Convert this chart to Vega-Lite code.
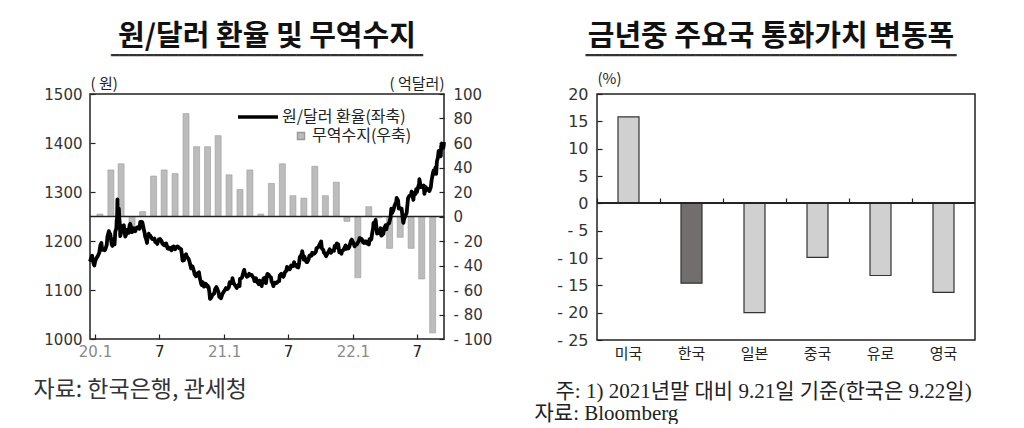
{
  "$schema": "https://vega.github.io/schema/vega-lite/v6.json",
  "background": "white",
  "padding": {"left": 32, "top": 22, "right": 5, "bottom": 0},
  "spacing": 40,
  "config": {
    "view": {"stroke": "#222", "strokeWidth": 1.5},
    "font": "Noto Sans CJK KR",
    "axis": {"grid": false, "domain": false, "labelFont": "DejaVu Sans", "labelFontSize": 15, "labelColor": "#333", "tickColor": "#222", "tickWidth": 1.2, "titleFontWeight": "normal", "titleFont": "Noto Sans CJK KR", "titleColor": "#222", "labelOverlap": false},
    "title": {"fontSize": 29, "fontWeight": "bold", "color": "#111", "anchor": "middle", "frame": "group", "subtitleFont": "DejaVu Sans Mono", "subtitleFontSize": 14, "subtitleColor": "#333", "subtitlePadding": -3}
  },
  "hconcat": [
    {
      "title": {"text": "원/달러 환율 및 무역수지", "subtitle": "━━━━━━━━━━━━━━━━━━━━━━━━━━━━━━━━━━━━━", "offset": 13},
      "width": 354,
      "height": 245,
      "layer": [
        {
          "data": {"values": [
            {"m": "2020-01-15", "tb": 2}, {"m": "2020-02-15", "tb": 38}, {"m": "2020-03-15", "tb": 43}, {"m": "2020-04-15", "tb": -9},
            {"m": "2020-05-15", "tb": 4}, {"m": "2020-06-15", "tb": 33}, {"m": "2020-07-15", "tb": 38}, {"m": "2020-08-15", "tb": 35},
            {"m": "2020-09-15", "tb": 84}, {"m": "2020-10-15", "tb": 57}, {"m": "2020-11-15", "tb": 57}, {"m": "2020-12-15", "tb": 66},
            {"m": "2021-01-15", "tb": 34}, {"m": "2021-02-15", "tb": 22}, {"m": "2021-03-15", "tb": 38}, {"m": "2021-04-15", "tb": 2},
            {"m": "2021-05-15", "tb": 27}, {"m": "2021-06-15", "tb": 43}, {"m": "2021-07-15", "tb": 17}, {"m": "2021-08-15", "tb": 15},
            {"m": "2021-09-15", "tb": 41}, {"m": "2021-10-15", "tb": 17}, {"m": "2021-11-15", "tb": 28}, {"m": "2021-12-15", "tb": -4},
            {"m": "2022-01-15", "tb": -50}, {"m": "2022-02-15", "tb": 8}, {"m": "2022-03-15", "tb": -1}, {"m": "2022-04-15", "tb": -26},
            {"m": "2022-05-15", "tb": -17}, {"m": "2022-06-15", "tb": -26}, {"m": "2022-07-15", "tb": -51}, {"m": "2022-08-15", "tb": -95}
          ]},
          "layer": [
            {
              "mark": {"type": "bar", "size": 6, "stroke": "#9a9a9a", "strokeWidth": 0.6},
              "encoding": {
                "x": {"field": "m", "type": "temporal", "scale": {"type": "utc", "domain": ["2020-01-01", "2022-09-02"]},
                  "axis": {"orient": "bottom", "values": [{"year": 2020, "month": 1, "date": 1, "utc": true}, {"year": 2020, "month": 7, "date": 1, "utc": true}, {"year": 2021, "month": 1, "date": 1, "utc": true}, {"year": 2021, "month": 7, "date": 1, "utc": true}, {"year": 2022, "month": 1, "date": 1, "utc": true}, {"year": 2022, "month": 7, "date": 1, "utc": true}],
                    "tickCount": 20,
                    "labelExpr": "utcmonth(datum.value) == 0 ? (utcyear(datum.value) - 2000) + '.1' : '7'",
                    "labelColor": {"condition": {"test": "utcmonth(datum.value) == 0", "value": "#8a8a8a"}, "value": "#222"},
                    "tickSize": -5, "labelPadding": 10, "labelFlush": false, "labelOverlap": false,
                    "title": "자료: 한국은행, 관세청", "titleX": -57, "titleY": 39, "titleAlign": "left", "titleBaseline": "top", "titleAnchor": "start", "titleFontSize": 23, "titleColor": "#333"}},
                "y": {"field": "tb", "type": "quantitative", "scale": {"domain": [-100, 100]},
                  "axis": {"orient": "right", "values": [-100, -80, -60, -40, -20, 0, 20, 40, 60, 80, 100], "tickCount": 20, "tickSize": -5, "labelPadding": 14, "labelOverlap": false,
                    "labelExpr": "datum.value < 0 ? '- ' + abs(datum.value) : datum.label",
                    "title": "( 억달러)", "titleAngle": 0, "titleX": 0, "titleY": -3, "titleAlign": "right", "titleBaseline": "bottom", "titleFontSize": 15}},
                "fill": {"field": "t", "type": "nominal", "scale": {"range": ["#bcbcbc"]},
                  "legend": {"orient": "none", "legendX": 203, "legendY": 34, "title": null, "symbolType": "square", "symbolSize": 49, "labelFontSize": 16, "labelFont": "Noto Sans CJK KR", "labelColor": "#222", "labelOffset": 3, "padding": 0}}
              },
              "transform": [{"calculate": "'무역수지(우축)'", "as": "t"}]
            },
            {
              "data": {"values": [{"z": 0}]},
              "mark": {"type": "rule", "stroke": "#222", "strokeWidth": 1.5},
              "encoding": {"y": {"field": "z", "type": "quantitative"}}
            }
          ]
        },
        {
          "data": {"values": [
{"d":"2020-01-02","v":1158},{"d":"2020-01-06","v":1167},{"d":"2020-01-08","v":1170},{"d":"2020-01-10","v":1159},{"d":"2020-01-14","v":1150},{"d":"2020-01-17","v":1160},{"d":"2020-01-21","v":1166},{"d":"2020-01-23","v":1168},{"d":"2020-01-28","v":1176},{"d":"2020-01-31","v":1191},
{"d":"2020-02-03","v":1196},{"d":"2020-02-05","v":1182},{"d":"2020-02-07","v":1184},{"d":"2020-02-12","v":1181},{"d":"2020-02-14","v":1183},{"d":"2020-02-18","v":1192},{"d":"2020-02-20","v":1209},{"d":"2020-02-24","v":1220},{"d":"2020-02-26","v":1215},{"d":"2020-02-28","v":1214},
{"d":"2020-03-03","v":1193},{"d":"2020-03-05","v":1190},{"d":"2020-03-09","v":1204},{"d":"2020-03-11","v":1193},{"d":"2020-03-13","v":1219},{"d":"2020-03-16","v":1226},{"d":"2020-03-17","v":1243},{"d":"2020-03-18","v":1246},{"d":"2020-03-19","v":1285},{"d":"2020-03-20","v":1246},{"d":"2020-03-23","v":1266},{"d":"2020-03-24","v":1249},{"d":"2020-03-26","v":1232},{"d":"2020-03-27","v":1210},{"d":"2020-03-31","v":1222},
{"d":"2020-04-02","v":1230},{"d":"2020-04-06","v":1232},{"d":"2020-04-08","v":1220},{"d":"2020-04-10","v":1209},{"d":"2020-04-14","v":1216},{"d":"2020-04-16","v":1223},{"d":"2020-04-20","v":1217},{"d":"2020-04-22","v":1232},{"d":"2020-04-24","v":1235},{"d":"2020-04-28","v":1223},{"d":"2020-04-29","v":1218},
{"d":"2020-05-04","v":1226},{"d":"2020-05-06","v":1225},{"d":"2020-05-08","v":1220},{"d":"2020-05-12","v":1227},{"d":"2020-05-14","v":1228},{"d":"2020-05-18","v":1229},{"d":"2020-05-20","v":1225},{"d":"2020-05-22","v":1239},{"d":"2020-05-26","v":1239},{"d":"2020-05-28","v":1238},
{"d":"2020-06-01","v":1224},{"d":"2020-06-03","v":1218},{"d":"2020-06-05","v":1209},{"d":"2020-06-08","v":1203},{"d":"2020-06-10","v":1196},{"d":"2020-06-12","v":1210},{"d":"2020-06-15","v":1215},{"d":"2020-06-17","v":1209},{"d":"2020-06-19","v":1211},{"d":"2020-06-23","v":1206},{"d":"2020-06-25","v":1204},{"d":"2020-06-29","v":1203},
{"d":"2020-07-01","v":1205},{"d":"2020-07-03","v":1198},{"d":"2020-07-07","v":1196},{"d":"2020-07-09","v":1194},{"d":"2020-07-13","v":1203},{"d":"2020-07-15","v":1202},{"d":"2020-07-17","v":1204},{"d":"2020-07-21","v":1200},{"d":"2020-07-23","v":1195},{"d":"2020-07-27","v":1192},{"d":"2020-07-29","v":1194},{"d":"2020-07-31","v":1191},
{"d":"2020-08-03","v":1195},{"d":"2020-08-05","v":1190},{"d":"2020-08-07","v":1185},{"d":"2020-08-11","v":1184},{"d":"2020-08-13","v":1186},{"d":"2020-08-18","v":1181},{"d":"2020-08-20","v":1187},{"d":"2020-08-24","v":1189},{"d":"2020-08-26","v":1185},{"d":"2020-08-28","v":1183},{"d":"2020-08-31","v":1187},
{"d":"2020-09-02","v":1188},{"d":"2020-09-04","v":1189},{"d":"2020-09-08","v":1186},{"d":"2020-09-10","v":1185},{"d":"2020-09-14","v":1183},{"d":"2020-09-16","v":1172},{"d":"2020-09-18","v":1160},{"d":"2020-09-22","v":1161},{"d":"2020-09-24","v":1169},{"d":"2020-09-28","v":1173},{"d":"2020-09-29","v":1169},
{"d":"2020-10-05","v":1163},{"d":"2020-10-07","v":1159},{"d":"2020-10-12","v":1144},{"d":"2020-10-14","v":1149},{"d":"2020-10-16","v":1148},{"d":"2020-10-20","v":1138},{"d":"2020-10-22","v":1132},{"d":"2020-10-26","v":1128},{"d":"2020-10-28","v":1132},{"d":"2020-10-30","v":1134},
{"d":"2020-11-03","v":1136},{"d":"2020-11-05","v":1126},{"d":"2020-11-09","v":1113},{"d":"2020-11-11","v":1110},{"d":"2020-11-13","v":1116},{"d":"2020-11-17","v":1107},{"d":"2020-11-19","v":1113},{"d":"2020-11-23","v":1112},{"d":"2020-11-25","v":1107},{"d":"2020-11-27","v":1109},{"d":"2020-11-30","v":1106},
{"d":"2020-12-02","v":1097},{"d":"2020-12-04","v":1082},{"d":"2020-12-08","v":1085},{"d":"2020-12-10","v":1089},{"d":"2020-12-14","v":1092},{"d":"2020-12-16","v":1093},{"d":"2020-12-18","v":1101},{"d":"2020-12-22","v":1106},{"d":"2020-12-24","v":1103},{"d":"2020-12-28","v":1095},{"d":"2020-12-30","v":1086},
{"d":"2021-01-04","v":1083},{"d":"2021-01-06","v":1088},{"d":"2021-01-08","v":1092},{"d":"2021-01-12","v":1097},{"d":"2021-01-14","v":1099},{"d":"2021-01-18","v":1104},{"d":"2021-01-20","v":1102},{"d":"2021-01-22","v":1102},{"d":"2021-01-26","v":1106},{"d":"2021-01-28","v":1116},
{"d":"2021-02-01","v":1116},{"d":"2021-02-03","v":1114},{"d":"2021-02-05","v":1124},{"d":"2021-02-09","v":1113},{"d":"2021-02-15","v":1107},{"d":"2021-02-17","v":1104},{"d":"2021-02-19","v":1107},{"d":"2021-02-23","v":1111},{"d":"2021-02-25","v":1108},{"d":"2021-02-26","v":1123},
{"d":"2021-03-02","v":1124},{"d":"2021-03-04","v":1126},{"d":"2021-03-08","v":1137},{"d":"2021-03-10","v":1141},{"d":"2021-03-12","v":1134},{"d":"2021-03-16","v":1129},{"d":"2021-03-18","v":1127},{"d":"2021-03-22","v":1129},{"d":"2021-03-24","v":1133},{"d":"2021-03-26","v":1131},{"d":"2021-03-31","v":1131},
{"d":"2021-04-02","v":1128},{"d":"2021-04-06","v":1124},{"d":"2021-04-08","v":1118},{"d":"2021-04-12","v":1124},{"d":"2021-04-14","v":1120},{"d":"2021-04-16","v":1116},{"d":"2021-04-20","v":1112},{"d":"2021-04-22","v":1119},{"d":"2021-04-26","v":1113},{"d":"2021-04-28","v":1108},{"d":"2021-04-30","v":1117},
{"d":"2021-05-04","v":1124},{"d":"2021-05-06","v":1125},{"d":"2021-05-10","v":1114},{"d":"2021-05-12","v":1125},{"d":"2021-05-14","v":1133},{"d":"2021-05-18","v":1131},{"d":"2021-05-20","v":1128},{"d":"2021-05-24","v":1126},{"d":"2021-05-26","v":1117},{"d":"2021-05-28","v":1115},{"d":"2021-05-31","v":1108},
{"d":"2021-06-02","v":1112},{"d":"2021-06-04","v":1115},{"d":"2021-06-08","v":1114},{"d":"2021-06-10","v":1115},{"d":"2021-06-14","v":1118},{"d":"2021-06-16","v":1118},{"d":"2021-06-18","v":1130},{"d":"2021-06-22","v":1133},{"d":"2021-06-24","v":1132},{"d":"2021-06-28","v":1127},{"d":"2021-06-30","v":1130},
{"d":"2021-07-02","v":1136},{"d":"2021-07-06","v":1139},{"d":"2021-07-08","v":1147},{"d":"2021-07-12","v":1146},{"d":"2021-07-14","v":1142},{"d":"2021-07-16","v":1142},{"d":"2021-07-20","v":1150},{"d":"2021-07-22","v":1148},{"d":"2021-07-26","v":1149},{"d":"2021-07-28","v":1157},{"d":"2021-07-30","v":1150},
{"d":"2021-08-03","v":1151},{"d":"2021-08-05","v":1147},{"d":"2021-08-09","v":1146},{"d":"2021-08-11","v":1154},{"d":"2021-08-13","v":1167},{"d":"2021-08-17","v":1171},{"d":"2021-08-19","v":1176},{"d":"2021-08-20","v":1179},{"d":"2021-08-24","v":1162},{"d":"2021-08-26","v":1168},{"d":"2021-08-30","v":1160},
{"d":"2021-09-01","v":1157},{"d":"2021-09-03","v":1157},{"d":"2021-09-07","v":1163},{"d":"2021-09-09","v":1170},{"d":"2021-09-13","v":1172},{"d":"2021-09-15","v":1170},{"d":"2021-09-17","v":1176},{"d":"2021-09-23","v":1174},{"d":"2021-09-27","v":1178},{"d":"2021-09-29","v":1185},
{"d":"2021-10-05","v":1188},{"d":"2021-10-07","v":1192},{"d":"2021-10-12","v":1199},{"d":"2021-10-14","v":1185},{"d":"2021-10-18","v":1182},{"d":"2021-10-20","v":1176},{"d":"2021-10-22","v":1175},{"d":"2021-10-26","v":1169},{"d":"2021-10-28","v":1172},
{"d":"2021-11-01","v":1177},{"d":"2021-11-03","v":1180},{"d":"2021-11-05","v":1183},{"d":"2021-11-09","v":1176},{"d":"2021-11-11","v":1179},{"d":"2021-11-15","v":1181},{"d":"2021-11-17","v":1180},{"d":"2021-11-19","v":1190},{"d":"2021-11-23","v":1187},{"d":"2021-11-25","v":1195},{"d":"2021-11-29","v":1193},
{"d":"2021-12-02","v":1177},{"d":"2021-12-06","v":1179},{"d":"2021-12-08","v":1174},{"d":"2021-12-10","v":1180},{"d":"2021-12-14","v":1182},{"d":"2021-12-16","v":1185},{"d":"2021-12-20","v":1191},{"d":"2021-12-22","v":1184},{"d":"2021-12-24","v":1186},{"d":"2021-12-28","v":1185},{"d":"2021-12-30","v":1188},
{"d":"2022-01-04","v":1201},{"d":"2022-01-06","v":1203},{"d":"2022-01-10","v":1197},{"d":"2022-01-12","v":1193},{"d":"2022-01-14","v":1189},{"d":"2022-01-18","v":1193},{"d":"2022-01-20","v":1193},{"d":"2022-01-24","v":1198},{"d":"2022-01-26","v":1200},{"d":"2022-01-28","v":1206},
{"d":"2022-02-03","v":1204},{"d":"2022-02-07","v":1197},{"d":"2022-02-09","v":1196},{"d":"2022-02-11","v":1199},{"d":"2022-02-15","v":1199},{"d":"2022-02-17","v":1195},{"d":"2022-02-21","v":1194},{"d":"2022-02-23","v":1193},{"d":"2022-02-25","v":1204},{"d":"2022-02-28","v":1202},
{"d":"2022-03-02","v":1204},{"d":"2022-03-04","v":1214},{"d":"2022-03-07","v":1227},{"d":"2022-03-08","v":1237},{"d":"2022-03-10","v":1232},{"d":"2022-03-14","v":1243},{"d":"2022-03-16","v":1230},{"d":"2022-03-18","v":1215},{"d":"2022-03-22","v":1220},{"d":"2022-03-24","v":1216},{"d":"2022-03-28","v":1226},{"d":"2022-03-30","v":1211},
{"d":"2022-04-01","v":1212},{"d":"2022-04-05","v":1215},{"d":"2022-04-07","v":1226},{"d":"2022-04-11","v":1232},{"d":"2022-04-13","v":1224},{"d":"2022-04-15","v":1231},{"d":"2022-04-19","v":1236},{"d":"2022-04-21","v":1236},{"d":"2022-04-25","v":1249},{"d":"2022-04-27","v":1266},{"d":"2022-04-29","v":1257},
{"d":"2022-05-03","v":1263},{"d":"2022-05-06","v":1272},{"d":"2022-05-09","v":1277},{"d":"2022-05-11","v":1281},{"d":"2022-05-12","v":1288},{"d":"2022-05-16","v":1283},{"d":"2022-05-18","v":1266},{"d":"2022-05-20","v":1268},{"d":"2022-05-24","v":1265},{"d":"2022-05-26","v":1266},{"d":"2022-05-30","v":1240},{"d":"2022-05-31","v":1237},
{"d":"2022-06-02","v":1245},{"d":"2022-06-07","v":1254},{"d":"2022-06-09","v":1257},{"d":"2022-06-13","v":1287},{"d":"2022-06-15","v":1290},{"d":"2022-06-17","v":1292},{"d":"2022-06-21","v":1293},{"d":"2022-06-23","v":1301},{"d":"2022-06-24","v":1298},{"d":"2022-06-28","v":1284},{"d":"2022-06-30","v":1298},
{"d":"2022-07-04","v":1296},{"d":"2022-07-06","v":1306},{"d":"2022-07-08","v":1300},{"d":"2022-07-12","v":1312},{"d":"2022-07-14","v":1316},{"d":"2022-07-15","v":1326},{"d":"2022-07-19","v":1310},{"d":"2022-07-21","v":1313},{"d":"2022-07-25","v":1311},{"d":"2022-07-27","v":1313},{"d":"2022-07-29","v":1296},
{"d":"2022-08-02","v":1310},{"d":"2022-08-04","v":1304},{"d":"2022-08-08","v":1306},{"d":"2022-08-10","v":1306},{"d":"2022-08-12","v":1302},{"d":"2022-08-16","v":1310},{"d":"2022-08-18","v":1323},{"d":"2022-08-22","v":1339},{"d":"2022-08-24","v":1344},{"d":"2022-08-26","v":1337},{"d":"2022-08-29","v":1350},{"d":"2022-08-31","v":1337},
{"d":"2022-09-02","v":1362},{"d":"2022-09-05","v":1371},{"d":"2022-09-07","v":1384},{"d":"2022-09-13","v":1373},{"d":"2022-09-14","v":1393},{"d":"2022-09-16","v":1399},{"d":"2022-09-19","v":1394},{"d":"2022-09-20","v":1390},{"d":"2022-09-21","v":1394},{"d":"2022-09-22","v":1402}
          ]},
          "transform": [{"calculate": "'원/달러 환율(좌축)'", "as": "s"}],
          "mark": {"type": "line", "strokeWidth": 3.8, "strokeJoin": "round"},
          "encoding": {
            "x": {"field": "d", "type": "temporal", "scale": {"type": "utc", "domain": ["2020-01-02", "2022-09-22"]}, "axis": null},
            "y": {"field": "v", "type": "quantitative", "scale": {"domain": [1000, 1500]},
              "axis": {"orient": "left", "values": [1000, 1100, 1200, 1300, 1400, 1500], "tickCount": 20, "format": "d", "tickSize": -5, "labelPadding": 13, "labelOverlap": false,
                "title": "( 원)", "titleAngle": 0, "titleX": 0, "titleY": -3, "titleAlign": "left", "titleBaseline": "bottom", "titleFontSize": 15}},
            "stroke": {"field": "s", "type": "nominal", "scale": {"range": ["#000000"]},
              "legend": {"orient": "none", "legendX": 146, "legendY": 1, "title": null, "symbolType": "stroke", "symbolSize": 1600, "symbolStrokeWidth": 3.5, "labelFontSize": 16, "labelFont": "Noto Sans CJK KR", "labelColor": "#222", "labelOffset": 2, "padding": 0}}
          }
        }
      ],
      "resolve": {"scale": {"x": "independent", "y": "independent"}}
    },
    {
      "title": {"text": "금년중 주요국 통화가치 변동폭", "subtitle": "━━━━━━━━━━━━━━━━━━━━━━━━━━━━━━━━━━━━━━━━━━━━", "offset": 8, "dx": -15},
      "width": 378,
      "height": 246,
      "data": {"values": [
        {"c": "미국", "v": 15.8}, {"c": "한국", "v": -14.6}, {"c": "일본", "v": -20.0},
        {"c": "중국", "v": -9.9}, {"c": "유로", "v": -13.2}, {"c": "영국", "v": -16.3}
      ]},
      "layer": [
        {
          "mark": {"type": "bar", "size": 21, "stroke": "#333", "strokeWidth": 1.2},
          "encoding": {
            "x": {"field": "c", "type": "nominal", "sort": null, "scale": {"paddingInner": 0, "paddingOuter": 0},
              "axis": {"orient": "bottom", "ticks": false, "labelAngle": 0, "labelFont": "Noto Sans CJK KR", "labelFontSize": 15, "labelPadding": 6, "labelColor": "#222",
                "title": ["\u200b\u00a0\u00a0\u00a0\u00a0주: 1) 2021년말 대비 9.21일 기준(한국은 9.22일)", "자료: Bloomberg"], "titleX": -63, "titleY": 40, "titleAlign": "left", "titleBaseline": "top", "titleAnchor": "start", "titleFont": "Liberation Serif, Noto Sans CJK KR", "titleFontSize": 21, "titleLineHeight": 22, "titleColor": "#222"}},
            "y": {"field": "v", "type": "quantitative", "scale": {"domain": [-25, 20]},
              "axis": {"values": [-25, -20, -15, -10, -5, 0, 5, 10, 15, 20], "tickCount": 20, "tickSize": -5, "labelPadding": 14, "labelFontSize": 16, "labelOverlap": false,
                "labelExpr": "datum.value < 0 ? '- ' + abs(datum.value) : datum.label",
                "title": "(%)", "titleAngle": 0, "titleX": 0, "titleY": -8, "titleAlign": "left", "titleBaseline": "bottom", "titleFontSize": 15}},
            "fill": {"condition": {"test": "datum.c === '한국'", "value": "#736e6e"}, "value": "#d0d0d0"}
          }
        },
        {
          "mark": {"type": "rule", "stroke": "#222", "strokeWidth": 1.5},
          "encoding": {"y": {"datum": 0}}
        },
        {
          "mark": {"type": "text", "text": ""},
          "encoding": {
            "x": {"field": "c", "type": "nominal", "sort": null,
              "axis": {"orient": "top", "offset": -109, "labels": false, "ticks": true, "tickSize": 5, "bandPosition": 0, "title": null}}
          }
        }
      ],
      "resolve": {"axis": {"x": "independent"}}
    }
  ]
}
